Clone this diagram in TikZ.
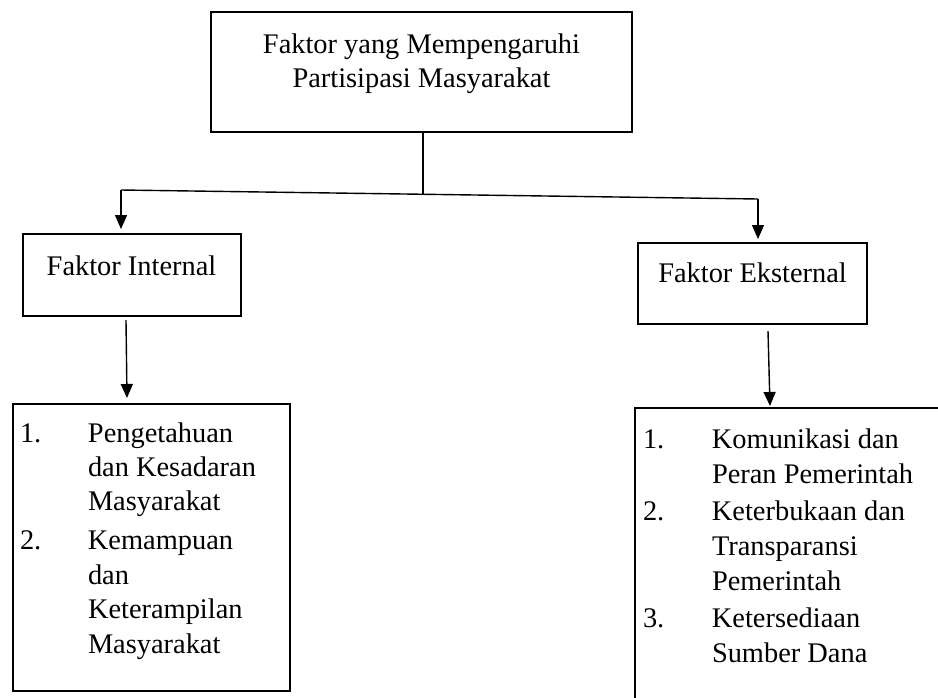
\documentclass[tikz,border=0pt]{standalone}
\usepackage{fontspec}
\setmainfont{Liberation Serif}
\usetikzlibrary{arrows.meta}
\begin{document}
\begin{tikzpicture}[x=1pt,y=-1pt,
  boxnode/.style={draw=black,line width=2.8pt,rectangle,inner sep=0pt,outer sep=0pt},
  txt/.style={inner sep=0pt,outer sep=0pt,font=\fontsize{28.4}{34.4}\selectfont},
  conn/.style={draw=black,line width=1.4pt},
  arr/.style={conn,-{Triangle[length=14pt,width=12pt]}}]
\useasboundingbox (0,0) rectangle (938,697);
\clip (0,0) rectangle (938,697);
% boxes
\node[boxnode,minimum width=421pt,minimum height=120pt] (top) at (421.5,72) {};
\node[boxnode,minimum width=218pt,minimum height=82pt] (int) at (132,275) {};
\node[boxnode,minimum width=229pt,minimum height=81pt] (ext) at (752.5,283.5) {};
\node[boxnode,minimum width=277pt,minimum height=287pt] (lst1) at (151.5,547.5) {};
\node[boxnode,minimum width=310pt,minimum height=302pt] (lst2) at (790,559) {};
% texts
\node[txt,anchor=base,font=\fontsize{28.4}{34}\selectfont] (toptext) at (421.5,53)
  {\begin{tabular}[t]{@{}c@{}}Faktor yang Mempengaruhi\\Partisipasi Masyarakat\end{tabular}};
\node[txt,anchor=base] (inttext) at (131.5,275) {Faktor Internal};
\node[txt,anchor=base] (exttext) at (752.5,282) {Faktor Eksternal};
\node[txt,anchor=base west] (lst1text) at (20,442)
  {\begin{tabular}[t]{@{}p{68pt}@{}l@{}}
   1. & Pengetahuan\\
      & dan Kesadaran\\
      & Masyarakat\\[4.6pt]
   2. & Kemampuan\\
      & dan\\
      & Keterampilan\\
      & Masyarakat
  \end{tabular}};
\node[txt,anchor=base west,font=\fontsize{28.4}{35}\selectfont] (lst2text) at (643,448)
  {\begin{tabular}[t]{@{}p{69pt}@{}l@{}}
   1. & Komunikasi dan\\
      & Peran Pemerintah\\[2pt]
   2. & Keterbukaan dan\\
      & Transparansi\\
      & Pemerintah\\[2pt]
   3. & Ketersediaan\\
      & Sumber Dana
  \end{tabular}};
% connectors
\coordinate (j) at (423,194.3);
\coordinate (lc) at (121,190);
\coordinate (rc) at (758,199);
\draw[conn] (top.south -| j) -- (j);
\draw[conn] (lc) -- (rc);
\draw[arr] (lc) -- ([yshift=5pt]lc |- int.north);
\draw[arr] (rc) -- ([yshift=4pt]rc |- ext.north);
\draw[arr] ([xshift=-6pt,yshift=-4pt]int.south) -- ([yshift=6pt]lst1.north -| 127,0);
\draw[arr] ([xshift=15.5pt,yshift=-7pt]ext.south) -- ([yshift=2pt]lst2.north -| 770,0);
\end{tikzpicture}
\end{document}
